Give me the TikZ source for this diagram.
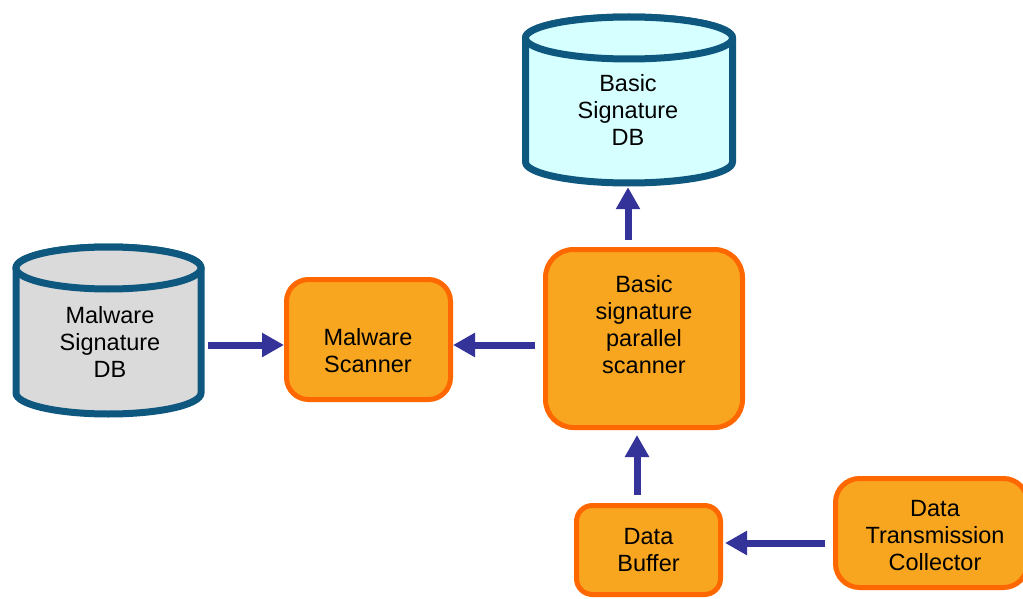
\documentclass[tikz,border=0pt]{standalone}
\usepackage{fontspec}
\setmainfont{Liberation Sans}
\usetikzlibrary{arrows.meta,calc}

\definecolor{boxfill}{RGB}{248,166,32}
\definecolor{boxline}{RGB}{255,104,0}
\definecolor{dbline}{RGB}{14,88,128}
\definecolor{dbcyan}{RGB}{214,255,255}
\definecolor{dbgray}{RGB}{218,218,218}
\definecolor{flow}{RGB}{51,51,153}

\tikzset{
  proc/.style={draw=boxline, fill=boxfill, line width=5pt, rounded corners=#1,
    align=center, inner sep=0pt, font=\fontsize{23.5}{27}\selectfont},
  proc/.default=20pt,
  label text/.style={align=center, inner sep=0pt, font=\fontsize{23.5}{27}\selectfont},
  dbshape/.style={draw=dbline, line width=7pt, fill=#1},
  flowarrow/.style={draw=flow, line width=7pt, -{Triangle[length=22pt,width=23pt]}},
}

% cylinder: left x, right x, top centre y, bottom centre y, half height of the ellipses, fill
\newcommand{\dbcylinder}[6]{%
  \pgfmathsetmacro{\rxc}{(#2-#1)/2}%
  \pgfmathsetmacro{\cxc}{(#2+#1)/2}%
  \path[dbshape=#6] (#1,-#3) -- (#1,-#4) arc (180:360:\rxc pt and #5pt) -- (#2,-#3)
    arc (0:180:\rxc pt and #5pt) -- cycle;
  \path[dbshape=#6] (\cxc,-#3) ellipse ({\rxc pt} and #5pt);
}

\begin{document}
\begin{tikzpicture}[x=1pt,y=1pt]
\useasboundingbox[fill=white] (0,0) rectangle (1023,-599);
\clip (0,0) rectangle (1023,-599);

% databases
\dbcylinder{525.5}{732.5}{38}{162}{21}{dbcyan}
\dbcylinder{16}{201}{268}{393}{21}{dbgray}
\node[label text] (bdbtext) at (628,-110) {Basic\\Signature\\DB};
\node[label text] (mdbtext) at (110,-342) {Malware\\Signature\\DB};
\node[inner sep=0pt, minimum width=214pt, minimum height=173pt] (bdb) at (629,-100.5) {};
\node[inner sep=0pt, minimum width=199pt, minimum height=173pt] (mdb) at (108.5,-331) {};

% processing blocks
\node[proc=22pt, minimum width=164pt, minimum height=120pt] (mscan) at (368.5,-339.5) {};
\node[label text] (mscantext) at (368,-351) {Malware\\Scanner};
\node[proc=28pt, minimum width=197pt, minimum height=178pt] (pscan) at (644,-338.5) {};
\node[label text] (pscantext) at (644,-325) {Basic\\signature\\parallel\\scanner};
\node[proc=16pt, minimum width=144pt, minimum height=89pt] (buf) at (648.5,-550)
  {Data\\Buffer};
\node[proc=24pt, minimum width=192pt, minimum height=109pt] (coll) at (931.5,-533) {};
\node[label text] (colltext) at (935,-536) {Data\\Transmission\\Collector};

% data flow
\draw[flowarrow] (mdb.east |- 0,-345) -- (mscan.west |- 0,-345);
\draw[flowarrow, shorten <=8pt] (pscan.west |- 0,-345) -- (mscan.east |- 0,-345);
\draw[flowarrow, shorten <=7pt] (628,0 |- pscan.north) -- (628,0 |- bdb.south);
\draw[flowarrow, shorten <=8pt, shorten >=5pt] (637,0 |- buf.north) -- (637,0 |- pscan.south);
\draw[flowarrow, shorten <=8pt, shorten >=2pt] (coll.west |- 0,-543) -- (buf.east |- 0,-543);
\end{tikzpicture}
\end{document}
